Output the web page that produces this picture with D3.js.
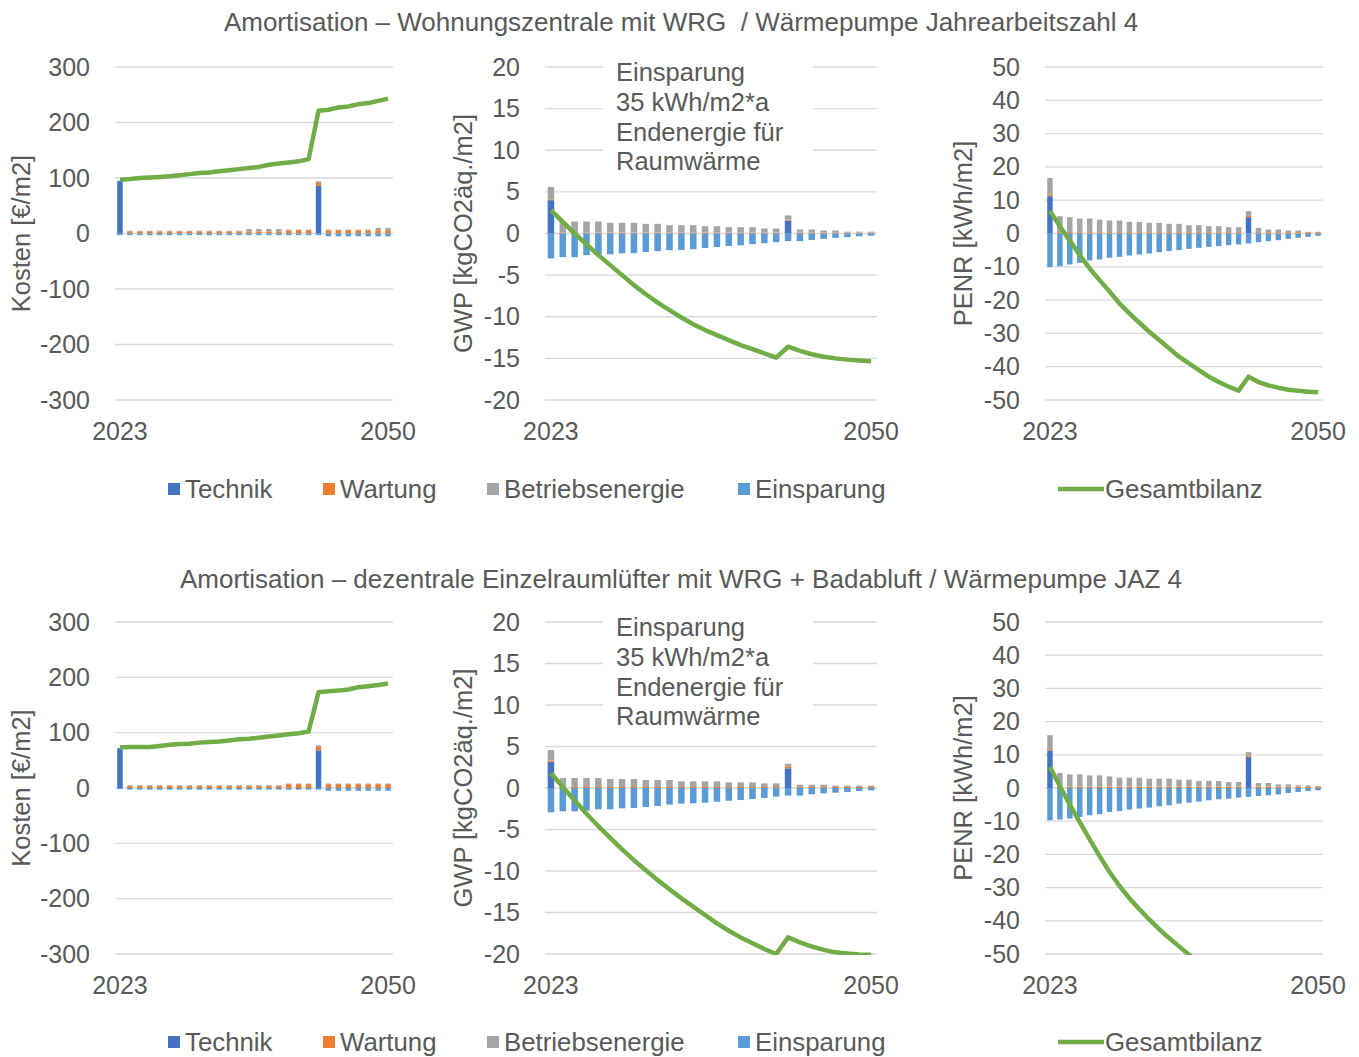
<!DOCTYPE html>
<html>
<head>
<meta charset="utf-8">
<script src="https://cdn.jsdelivr.net/npm/d3@7"></script>
<style>
  body { margin: 0; background: #fff; }
  svg text { font-family: "Liberation Sans", Arial, Helvetica, sans-serif; fill: #595959; }
</style>
</head>
<body>
<svg id="chart" width="1359" height="1057"></svg>
<script>
// ---- categories ----
const years = [2023, 2024, 2025, 2026, 2027, 2028, 2029, 2030, 2031, 2032, 2033, 2034, 2035, 2036,
               2037, 2038, 2039, 2040, 2041, 2042, 2043, 2044, 2045, 2046, 2047, 2048, 2049, 2050];
const xTickYears = [2023, 2050];

const seriesNames = ["Technik", "Wartung", "Betriebsenergie", "Einsparung"];
const lineName = "Gesamtbilanz";

const titleTop = "Amortisation – Wohnungszentrale mit WRG  / Wärmepumpe Jahrearbeitszahl 4";
const titleBottom = "Amortisation – dezentrale Einzelraumlüfter mit WRG + Badabluft / Wärmepumpe JAZ 4";
const noteLines = ["Einsparung", "35 kWh/m2*a", "Endenergie für", "Raumwärme"];

const costTicks = [-300, -200, -100, 0, 100, 200, 300];
const gwpTicks = [-20, -15, -10, -5, 0, 5, 10, 15, 20];
const penrTicks = [-50, -40, -30, -20, -10, 0, 10, 20, 30, 40, 50];

// ---- Wohnungszentrale: Kosten [€/m2] ----
const wzKostenTechnik = [95, 0, 0, 0, 0, 0, 0, 0, 0, 0, 0, 0, 0, 0, 0, 0, 0, 0, 0, 0, 86, 0, 0, 0, 0, 0, 0, 0];
const wzKostenWartung = [0, 4, 4, 4, 4, 4, 4, 4, 4, 4, 4, 4, 4, 4, 4, 4, 4, 6, 6, 6, 5, 6, 6, 6, 6, 6, 6, 6];
const wzKostenBetrieb = [0, 1, 1, 1, 1, 1, 1, 1, 1, 1, 1, 1, 1, 4, 4, 4, 4, 1, 1, 1, 3, 1, 1, 1, 1, 1, 4, 4];
const wzKostenEinsparung = [-3, -3, -3, -3, -3, -3, -3, -3, -3, -3, -3, -3, -3, -3, -3, -3, -3, -3, -3, -3, -3, -5, -5, -5, -5, -5, -5, -5];
const wzKostenBilanz = [97, 98, 100, 101, 102, 103, 105, 107, 109, 110, 112, 114, 116, 118, 120, 124, 126, 128, 130, 134,
                        221, 223, 227, 229, 233, 235, 239, 243];

// ---- Wohnungszentrale: GWP [kgCO2äq./m2] ----
const wzGwpTechnik = [4.0, 0, 0, 0, 0, 0, 0, 0, 0, 0, 0, 0, 0, 0, 0, 0, 0, 0, 0, 0, 1.55, 0, 0, 0, 0, 0, 0, 0];
const wzGwpWartung = [0.1, 0.12, 0.12, 0.12, 0.12, 0.12, 0.12, 0.12, 0.12, 0.12, 0.12, 0.12, 0.12, 0.12, 0.12, 0.12, 0.12, 0.12, 0.12, 0.12, 0.12, 0.12, 0.12, 0.12, 0.12, 0.12, 0.12, 0.12];
const wzGwpBetrieb = [1.48, 1.32, 1.32, 1.32, 1.32, 1.16, 1.16, 1.16, 1.04, 1.04, 0.88, 0.88, 0.88, 0.76, 0.76, 0.64, 0.64, 0.64, 0.48, 0.48, 0.5, 0.36, 0.36, 0.24, 0.24, 0.1, 0.1, 0.1];
const wzGwpEinsparung = [-3.0, -2.84, -2.84, -2.6, -2.5, -2.5, -2.38, -2.36, -2.22, -2.12, -2.0, -1.98, -1.88, -1.74, -1.62, -1.5, -1.42, -1.28, -1.16, -1.04, -0.92, -0.92, -0.78, -0.64, -0.52, -0.44, -0.34, -0.26];
const wzGwpBilanz = [2.8, 1.4, 0.0, -1.3, -2.6, -3.8, -5.0, -6.2, -7.3, -8.3, -9.2, -10.1, -10.9, -11.6, -12.2, -12.8, -13.4, -13.9, -14.4, -14.9,
                     -13.6, -14.1, -14.5, -14.8, -15.0, -15.15, -15.25, -15.35];

// ---- Wohnungszentrale: PENR [kWh/m2] ----
const wzPenrTechnik = [11.2, 0, 0, 0, 0, 0, 0, 0, 0, 0, 0, 0, 0, 0, 0, 0, 0, 0, 0, 0, 4.9, 0, 0, 0, 0, 0, 0, 0];
const wzPenrWartung = [0.5, 0.4, 0.4, 0.4, 0.4, 0.4, 0.4, 0.4, 0.4, 0.4, 0.4, 0.4, 0.4, 0.4, 0.4, 0.4, 0.4, 0.4, 0.4, 0.4, 0.4, 0.4, 0.4, 0.4, 0.4, 0.4, 0.4, 0.4];
const wzPenrBetrieb = [5.0, 4.8, 4.5, 4.1, 4.1, 3.8, 3.5, 3.5, 3.1, 3.1, 2.8, 2.8, 2.5, 2.5, 2.1, 2.1, 1.8, 1.8, 1.5, 1.5, 1.4, 1.3, 0.8, 0.8, 0.5, 0.5, 0.1, 0.1];
const wzPenrEinsparung = [-10.1, -9.8, -9.3, -8.8, -8.1, -7.8, -7.3, -7.0, -6.6, -6.3, -6.0, -5.6, -5.3, -5.0, -4.6, -4.3, -4.0, -3.8, -3.5, -3.3, -3.0, -2.6, -2.3, -2.0, -1.6, -1.3, -1.0, -0.7];
const wzPenrBilanz = [6.8, 2.2, -2.2, -6.5, -10.5, -14.0, -17.4, -21.0, -24.0, -26.8, -29.5, -32.0, -34.5, -37.0, -39.0, -41.0, -43.0, -44.6, -46.0, -47.2,
                      -43.0, -44.6, -45.6, -46.3, -46.9, -47.2, -47.5, -47.7];

// ---- Einzelraumlüfter: Kosten [€/m2] ----
const erKostenTechnik = [72, 0, 0, 0, 0, 0, 0, 0, 0, 0, 0, 0, 0, 0, 0, 0, 0, 0, 0, 0, 68, 0, 0, 0, 0, 0, 0, 0];
const erKostenWartung = [0, 4, 4, 4, 4, 4, 4, 4, 4, 4, 4, 4, 4, 4, 4, 4, 4, 7, 7, 7, 6, 7, 7, 7, 7, 7, 7, 7];
const erKostenBetrieb = [0, 1, 1, 1, 1, 1, 1, 1, 1, 1, 1, 1, 1, 1, 1, 1, 1, 1, 1, 1, 3, 1, 1, 1, 1, 1, 1, 1];
const erKostenEinsparung = [-2, -3, -3, -3, -3, -3, -3, -3, -3, -3, -3, -3, -3, -3, -3, -3, -3, -3, -3, -3, -3, -5, -5, -5, -5, -5, -5, -5];
const erKostenBilanz = [73, 74, 74, 74, 76, 78, 79.5, 80, 82, 83, 84, 86, 88, 89, 91, 93, 95, 97, 99, 102,
                        173, 175, 176, 178, 182, 184, 186, 189];

// ---- Einzelraumlüfter: GWP [kgCO2äq./m2] ----
const erGwpTechnik = [3.17, 0, 0, 0, 0, 0, 0, 0, 0, 0, 0, 0, 0, 0, 0, 0, 0, 0, 0, 0, 2.37, 0, 0, 0, 0, 0, 0, 0];
const erGwpWartung = [0.16, 0.12, 0.12, 0.12, 0.12, 0.12, 0.12, 0.12, 0.12, 0.12, 0.12, 0.12, 0.12, 0.12, 0.12, 0.12, 0.12, 0.12, 0.12, 0.12, 0.24, 0.12, 0.12, 0.12, 0.12, 0.12, 0.12, 0.12];
const erGwpBetrieb = [1.24, 1.08, 1.08, 1.08, 1.08, 0.96, 0.96, 0.96, 0.84, 0.84, 0.84, 0.68, 0.68, 0.68, 0.68, 0.56, 0.56, 0.56, 0.44, 0.44, 0.32, 0.28, 0.28, 0.28, 0.16, 0.16, 0.16, 0.16];
const erGwpEinsparung = [-2.93, -2.81, -2.81, -2.73, -2.57, -2.57, -2.45, -2.41, -2.29, -2.17, -2.0, -1.89, -1.85, -1.77, -1.65, -1.53, -1.45, -1.33, -1.2, -1.04, -0.92, -0.92, -0.76, -0.64, -0.56, -0.48, -0.36, -0.28];
const erGwpBilanz = [1.8, 0.1, -1.5, -3.1, -4.6, -6.0, -7.4, -8.7, -9.9, -11.1, -12.2, -13.3, -14.3, -15.3, -16.3, -17.2, -18.0, -18.7, -19.4, -20.0,
                     -18.0, -18.6, -19.1, -19.5, -19.8, -19.95, -20.05, -20.1];

// ---- Einzelraumlüfter: PENR [kWh/m2] ----
const erPenrTechnik = [11.3, 0, 0, 0, 0, 0, 0, 0, 0, 0, 0, 0, 0, 0, 0, 0, 0, 0, 0, 0, 9.3, 0, 0, 0, 0, 0, 0, 0];
const erPenrWartung = [0.4, 0.4, 0.4, 0.4, 0.4, 0.4, 0.4, 0.4, 0.4, 0.4, 0.4, 0.4, 0.4, 0.4, 0.4, 0.4, 0.4, 0.4, 0.4, 0.4, 0.4, 0.4, 0.4, 0.4, 0.4, 0.4, 0.4, 0.4];
const erPenrBetrieb = [4.2, 4.1, 3.7, 3.7, 3.4, 3.4, 3.1, 2.7, 2.7, 2.7, 2.4, 2.4, 2.4, 2.1, 2.1, 1.7, 1.7, 1.7, 1.4, 1.4, 1.1, 1.1, 1.1, 0.7, 0.7, 0.4, 0.4, 0.2];
const erPenrEinsparung = [-9.7, -9.5, -9.2, -8.7, -8.2, -7.9, -7.2, -6.9, -6.5, -6.2, -5.9, -5.5, -5.2, -4.7, -4.4, -4.1, -3.7, -3.4, -3.2, -2.9, -2.7, -2.4, -2.2, -1.9, -1.5, -1.2, -0.9, -0.7];
const erPenrBilanz = [6.3, 0.5, -5.0, -10.3, -15.5, -20.5, -25.3, -29.5, -33.2, -36.5, -39.6, -42.5, -45.2, -47.7, -50.2, -52.5, -54.7, -56.7, -58.6, -60.3,
                      -55.0, -56.4, -57.6, -58.7, -59.6, -60.4, -61.0, -61.5];

// ---- styling ----
const colors = { Technik: "#4472C4", Wartung: "#ED7D31", Betriebsenergie: "#A5A5A5", Einsparung: "#5B9BD5", Gesamtbilanz: "#70AD47" };
const gridColor = "#d9d9d9";

// plot rectangles per column / row
const cols = [{ x0: 115, x1: 393 }, { x0: 545, x1: 877 }, { x0: 1045, x1: 1323 }];
const rows = [{ y0: 67, y1: 400, title: 22, legend: 489 }, { y0: 622, y1: 954, title: 579, legend: 1042 }];
const yLabelX = [21, 463, 963];

const panels = [
  { row: 0, col: 0, label: "Kosten [€/m2]", ticks: costTicks,
    data: [wzKostenTechnik, wzKostenWartung, wzKostenBetrieb, wzKostenEinsparung], line: wzKostenBilanz },
  { row: 0, col: 1, label: "GWP [kgCO2äq./m2]", ticks: gwpTicks, note: true,
    data: [wzGwpTechnik, wzGwpWartung, wzGwpBetrieb, wzGwpEinsparung], line: wzGwpBilanz },
  { row: 0, col: 2, label: "PENR [kWh/m2]", ticks: penrTicks,
    data: [wzPenrTechnik, wzPenrWartung, wzPenrBetrieb, wzPenrEinsparung], line: wzPenrBilanz },
  { row: 1, col: 0, label: "Kosten [€/m2]", ticks: costTicks,
    data: [erKostenTechnik, erKostenWartung, erKostenBetrieb, erKostenEinsparung], line: erKostenBilanz },
  { row: 1, col: 1, label: "GWP [kgCO2äq./m2]", ticks: gwpTicks, note: true,
    data: [erGwpTechnik, erGwpWartung, erGwpBetrieb, erGwpEinsparung], line: erGwpBilanz },
  { row: 1, col: 2, label: "PENR [kWh/m2]", ticks: penrTicks,
    data: [erPenrTechnik, erPenrWartung, erPenrBetrieb, erPenrEinsparung], line: erPenrBilanz }
];

const svg = d3.select("#chart");
svg.append("rect").attr("width", 1359).attr("height", 1057).attr("fill", "#fff");

// titles
[titleTop, titleBottom].forEach((t, r) => {
  svg.append("text")
    .attr("x", 681).attr("y", rows[r].title)
    .attr("text-anchor", "middle").attr("dominant-baseline", "central")
    .style("font-size", "26px").style("white-space", "pre")
    .text(t);
});

// plain hyphen-minus tick labels
const plainNumber = d => String(d);

panels.forEach((p, pi) => {
  const cx = cols[p.col], ry = rows[p.row];
  const g = svg.append("g");

  const x = d3.scaleBand().domain(years).range([cx.x0, cx.x1]).paddingInner(0.45).paddingOuter(0.225);
  const xp = d3.scalePoint().domain(years).range([cx.x0, cx.x1]).padding(0.5);
  const y = d3.scaleLinear().domain(d3.extent(p.ticks)).range([ry.y1, ry.y0]);

  // gridlines
  g.append("g").selectAll("line").data(p.ticks).join("line")
    .attr("x1", cx.x0).attr("x2", cx.x1)
    .attr("y1", d => y(d)).attr("y2", d => y(d))
    .attr("stroke", gridColor).attr("stroke-width", 1.3);

  // y axis labels
  const ya = g.append("g").attr("transform", `translate(${cx.x0},0)`)
    .call(d3.axisLeft(y).tickValues(p.ticks).tickFormat(plainNumber).tickSize(0).tickPadding(25));
  ya.select(".domain").remove();
  ya.selectAll("text").style("font-size", "25px").attr("fill", "#595959");

  // x axis labels (first and last year)
  const xa = g.append("g").attr("transform", `translate(0,${ry.y1})`)
    .call(d3.axisBottom(x).tickValues(xTickYears).tickSize(0).tickPadding(22));
  xa.select(".domain").remove();
  xa.selectAll("text").style("font-size", "25px").attr("fill", "#595959");

  // axis title
  g.append("text")
    .attr("transform", `translate(${yLabelX[p.col]},${(ry.y0 + ry.y1) / 2}) rotate(-90)`)
    .attr("text-anchor", "middle").attr("dominant-baseline", "central")
    .style("font-size", "25.5px")
    .text(p.label);

  // annotation box
  if (p.note) {
    g.append("rect").attr("x", 603).attr("y", ry.y0 - 12).attr("width", 210).attr("height", 124).attr("fill", "#fff");
    g.append("text").attr("x", 616).attr("y", ry.y0 + 5)
      .style("font-size", "25.5px")
      .selectAll("tspan").data(noteLines).join("tspan")
      .attr("x", 616).attr("dy", (d, i) => i === 0 ? 0 : 29.8)
      .attr("dominant-baseline", "central")
      .text(d => d);
  }

  // stacked columns (positive up, savings down)
  const table = years.map((yr, i) => {
    const o = { year: yr };
    seriesNames.forEach((s, k) => { o[s] = p.data[k][i]; });
    return o;
  });
  const stacked = d3.stack().keys(seriesNames).offset(d3.stackOffsetDiverging)(table);
  g.append("g").selectAll("g").data(stacked).join("g")
    .attr("fill", d => colors[d.key])
    .selectAll("rect").data(d => d).join("rect")
    .attr("x", d => x(d.data.year))
    .attr("width", x.bandwidth())
    .attr("y", d => y(Math.max(d[0], d[1])))
    .attr("height", d => Math.abs(y(d[0]) - y(d[1])));

  // cumulative balance line, clipped to the plot area
  const clipId = "clip" + pi;
  svg.append("clipPath").attr("id", clipId).append("rect")
    .attr("x", cx.x0 - 10).attr("y", ry.y0).attr("width", cx.x1 - cx.x0 + 20).attr("height", ry.y1 - ry.y0 + 1);
  const line = d3.line().x((d, i) => xp(years[i])).y(d => y(d));
  g.append("path").datum(p.line)
    .attr("clip-path", `url(#${clipId})`)
    .attr("d", line)
    .attr("fill", "none").attr("stroke", colors.Gesamtbilanz)
    .attr("stroke-width", 4.5).attr("stroke-linejoin", "round");
});

// legends
const legendItems = [
  { name: "Technik", sx: 168, tx: 185 },
  { name: "Wartung", sx: 323, tx: 340 },
  { name: "Betriebsenergie", sx: 487, tx: 504 },
  { name: "Einsparung", sx: 738, tx: 755 }
];
rows.forEach(r => {
  const lg = svg.append("g");
  legendItems.forEach(it => {
    lg.append("rect").attr("x", it.sx).attr("y", r.legend - 6).attr("width", 12).attr("height", 12)
      .attr("fill", colors[it.name]);
    lg.append("text").attr("x", it.tx).attr("y", r.legend).attr("dominant-baseline", "central")
      .style("font-size", "25.8px").text(it.name);
  });
  lg.append("line").attr("x1", 1058).attr("x2", 1104).attr("y1", r.legend).attr("y2", r.legend)
    .attr("stroke", colors.Gesamtbilanz).attr("stroke-width", 4.5);
  lg.append("text").attr("x", 1105).attr("y", r.legend).attr("dominant-baseline", "central")
    .style("font-size", "25.8px").text(lineName);
});
</script>
</body>
</html>
